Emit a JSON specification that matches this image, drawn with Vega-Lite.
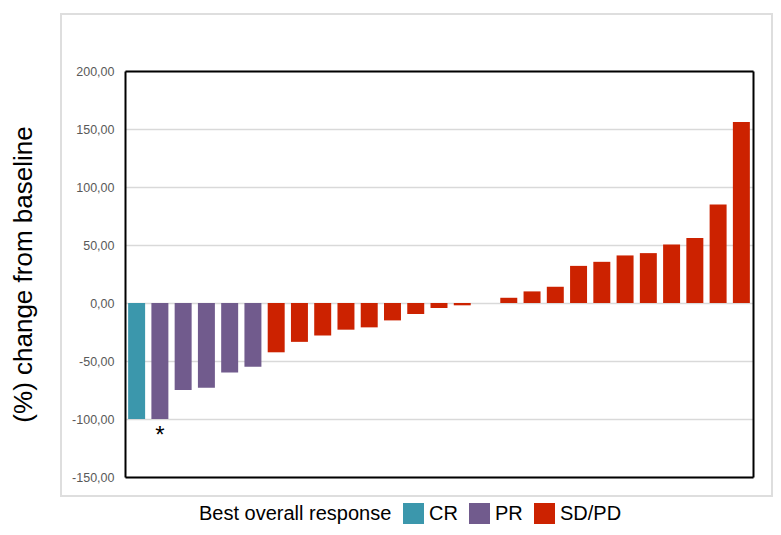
{
  "$schema": "https://vega.github.io/schema/vega-lite/v6.json",
  "width": 711,
  "height": 482,
  "autosize": {"type": "none"},
  "padding": {"left": 61, "top": 14, "right": 9, "bottom": 39},
  "background": "white",
  "config": {
    "locale": {"number": {"decimal": ",", "thousands": ".", "grouping": [3], "currency": ["", ""], "minus": "-"}},
    "view": {"stroke": "#dedede", "strokeWidth": 2},
    "font": "Liberation Sans"
  },
  "data": {
    "values": [
      {"patient": 1, "response": "CR", "change": -100, "note": ""},
      {"patient": 2, "response": "PR", "change": -100, "note": "*"},
      {"patient": 3, "response": "PR", "change": -75, "note": ""},
      {"patient": 4, "response": "PR", "change": -73, "note": ""},
      {"patient": 5, "response": "PR", "change": -60, "note": ""},
      {"patient": 6, "response": "PR", "change": -55, "note": ""},
      {"patient": 7, "response": "SD/PD", "change": -42.5, "note": ""},
      {"patient": 8, "response": "SD/PD", "change": -33.5, "note": ""},
      {"patient": 9, "response": "SD/PD", "change": -28, "note": ""},
      {"patient": 10, "response": "SD/PD", "change": -23, "note": ""},
      {"patient": 11, "response": "SD/PD", "change": -21, "note": ""},
      {"patient": 12, "response": "SD/PD", "change": -15, "note": ""},
      {"patient": 13, "response": "SD/PD", "change": -9.5, "note": ""},
      {"patient": 14, "response": "SD/PD", "change": -4.3, "note": ""},
      {"patient": 15, "response": "SD/PD", "change": -2, "note": ""},
      {"patient": 16, "response": "SD/PD", "change": 0, "note": ""},
      {"patient": 17, "response": "SD/PD", "change": 4.5, "note": ""},
      {"patient": 18, "response": "SD/PD", "change": 10, "note": ""},
      {"patient": 19, "response": "SD/PD", "change": 14, "note": ""},
      {"patient": 20, "response": "SD/PD", "change": 32, "note": ""},
      {"patient": 21, "response": "SD/PD", "change": 35.5, "note": ""},
      {"patient": 22, "response": "SD/PD", "change": 41, "note": ""},
      {"patient": 23, "response": "SD/PD", "change": 43, "note": ""},
      {"patient": 24, "response": "SD/PD", "change": 50.5, "note": ""},
      {"patient": 25, "response": "SD/PD", "change": 56, "note": ""},
      {"patient": 26, "response": "SD/PD", "change": 85, "note": ""},
      {"patient": 27, "response": "SD/PD", "change": 156, "note": ""}
    ]
  },
  "resolve": {"axis": {"x": "independent", "y": "independent"}},
  "layer": [
    {
      "mark": {"type": "bar"},
      "encoding": {
        "x": {
          "field": "patient", "type": "ordinal", "sort": null,
          "scale": {"range": [64, 692], "paddingInner": 0.27, "paddingOuter": 0.135},
          "axis": {"orient": "bottom", "offset": -19, "labels": false, "ticks": false, "title": null, "domainColor": "black", "domainWidth": 2, "grid": false}
        },
        "y": {
          "field": "change", "type": "quantitative",
          "scale": {"domain": [-150, 200], "range": [463, 57], "nice": false, "zero": false},
          "axis": {
            "orient": "left", "offset": -64,
            "values": [-150, -100, -50, 0, 50, 100, 150, 200],
            "format": ".2f",
            "title": "(%) change from baseline",
            "titleFontSize": 26, "titleFontWeight": "normal", "titleColor": "black", "titlePadding": 35,
            "labelFontSize": 12.5, "labelColor": "#595959", "labelPadding": 11,
            "ticks": false,
            "domainColor": "black", "domainWidth": 2,
            "grid": true, "gridColor": "#d9d9d9", "gridWidth": 1.6
          }
        },
        "color": {
          "field": "response", "type": "nominal",
          "scale": {"domain": ["CR", "PR", "SD/PD"], "range": ["#3b97ac", "#715b8d", "#cc2200"]},
          "legend": {
            "title": "Best overall response",
            "orient": "none", "legendX": 138, "legendY": 489,
            "direction": "horizontal", "titleOrient": "left",
            "titleFontSize": 20, "titleFontWeight": "normal", "titleColor": "black", "titlePadding": 11,
            "titleBaseline": "middle", "titleLimit": 400,
            "labelFontSize": 20, "labelColor": "black", "labelOffset": 5, "labelLimit": 200,
            "symbolType": "square", "symbolSize": 441, "symbolStrokeWidth": 0, "symbolOpacity": 1,
            "columnPadding": 11, "padding": 0
          }
        }
      }
    },
    {
      "transform": [{"filter": "datum.note != ''"}],
      "mark": {"type": "text", "fontSize": 24, "color": "black", "baseline": "alphabetic", "align": "center", "dy": 24},
      "encoding": {
        "x": {
          "field": "patient", "type": "ordinal", "sort": null,
          "axis": {"orient": "top", "offset": -57, "labels": false, "ticks": false, "title": null, "domainColor": "black", "domainWidth": 2, "grid": false}
        },
        "y": {
          "field": "change", "type": "quantitative",
          "axis": {"orient": "right", "offset": -19, "labels": false, "ticks": false, "title": null, "domainColor": "black", "domainWidth": 2, "grid": false}
        },
        "text": {"field": "note"}
      }
    }
  ]
}
